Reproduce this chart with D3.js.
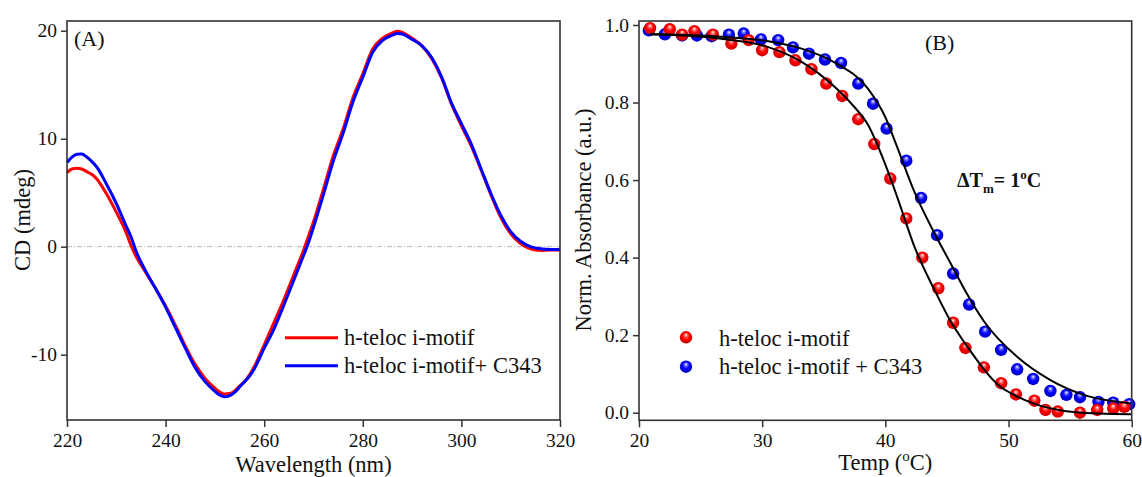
<!DOCTYPE html>
<html><head><meta charset="utf-8">
<script src="https://cdn.jsdelivr.net/npm/d3@7"></script>
<style>
body{margin:0;background:#fff;}
svg{display:block;font-family:"Liberation Serif","Times New Roman",serif;}
</style></head><body>
<svg id="chart" width="1142" height="477"></svg>
<script>
// ---------- Panel A: CD spectra ----------
const wavelength = [220,221,222,223,224,225,226,228,230,232,233,234,236,238,240,242,244,246,248,250,251,252,253,254,255,256,257,258,260,262,264,266,268,269,270,272,274,276,278,280,282,284,286,287,288,290,292,294,296,298,300,302,304,306,308,310,312,314,316,318,320];
const cdTeloc = [6.85,7.2,7.26,7.2,6.95,6.7,6.3,4.9,3.2,1.3,0.1,-0.9,-2.4,-3.9,-5.5,-7.3,-9.2,-10.9,-12.2,-13.1,-13.45,-13.64,-13.6,-13.35,-12.9,-12.5,-11.9,-11.1,-9.1,-7.0,-4.9,-2.6,-0.3,1.0,2.3,5.3,8.4,10.9,13.8,16.0,18.3,19.3,19.8,19.95,19.85,19.3,18.6,17.4,15.6,13.2,11.2,9.3,7.1,4.8,2.7,1.2,0.3,-0.2,-0.35,-0.3,-0.3];
const cdTelocC343 = [7.8,8.3,8.55,8.58,8.3,7.9,7.4,5.8,4.0,1.9,0.9,-0.4,-2.3,-3.9,-5.6,-7.5,-9.4,-11.2,-12.5,-13.4,-13.75,-13.9,-13.8,-13.5,-13.0,-12.5,-12.0,-11.3,-9.4,-7.6,-5.4,-3.1,-0.8,0.4,1.8,4.8,7.9,10.5,13.4,15.7,18.0,19.1,19.6,19.75,19.7,19.2,18.6,17.5,15.7,13.3,11.4,9.5,7.2,4.9,2.9,1.4,0.5,0.0,-0.2,-0.25,-0.25];
const cdXTicks = [220,240,260,280,300,320];
const cdYTicks = [-10,0,10,20];
const cdLegend = ["h-teloc i-motif","h-teloc i-motif+ C343"];

// ---------- Panel B: UV melting ----------
const tempTeloc = [20.9,22.5,23.5,24.5,26.0,27.5,28.9,30.0,31.4,32.7,34.0,35.2,36.5,37.8,39.1,40.4,41.7,43.0,44.3,45.5,46.5,48.0,49.4,50.6,52.1,53.0,54.0,55.8,57.2,58.5,59.4];
const absTeloc = [0.992,0.989,0.975,0.984,0.975,0.952,0.961,0.935,0.930,0.909,0.886,0.849,0.817,0.757,0.693,0.604,0.501,0.400,0.321,0.232,0.167,0.117,0.076,0.047,0.031,0.007,0.003,0.000,0.007,0.011,0.015];
const tempTelocC343 = [20.8,22.1,23.5,24.7,25.9,27.3,28.5,29.9,31.3,32.5,33.8,35.1,36.4,37.8,39.0,40.1,41.7,42.9,44.2,45.5,46.8,48.1,49.4,50.7,52.0,53.4,54.7,55.8,57.3,58.5,59.8];
const absTelocC343 = [0.986,0.976,0.973,0.973,0.971,0.975,0.978,0.963,0.961,0.942,0.926,0.911,0.902,0.849,0.797,0.733,0.650,0.554,0.458,0.359,0.279,0.209,0.162,0.112,0.087,0.056,0.046,0.040,0.028,0.026,0.022];
// sigmoidal fit curves
const fitTempTeloc = [20.9,24.0,27.0,30.5,33.2,35.9,37.3,38.6,40.0,41.0,42.4,44.0,45.3,46.1,47.0,48.0,49.3,50.5,52.0,54.7,57.4,60.0];
const fitAbsTeloc = [0.976,0.972,0.963,0.943,0.905,0.840,0.795,0.742,0.640,0.553,0.425,0.316,0.236,0.196,0.155,0.112,0.068,0.045,0.024,0.004,-0.002,-0.004];
const fitTempTelocC343 = [20.9,24.0,27.0,30.5,33.2,35.9,38.6,40.0,40.9,42.3,44.0,45.3,46.6,48.0,50.7,53.4,56.1,60.0];
const fitAbsTelocC343 = [0.976,0.974,0.969,0.958,0.939,0.903,0.835,0.762,0.690,0.574,0.462,0.385,0.308,0.236,0.144,0.084,0.046,0.024];
const meltXTicks = [20,30,40,50,60];
const meltYTicks = [0,0.2,0.4,0.6,0.8,1.0];
const meltLegend = ["h-teloc i-motif","h-teloc i-motif + C343"];

const svg = d3.select("#chart");
const frameColor = "#333";

// glossy sphere gradients for the markers
const defs = svg.append("defs");
function ball(id, hi, base, dark){
  const g = defs.append("radialGradient").attr("id", id)
    .attr("cx","50%").attr("cy","50%").attr("r","55%").attr("fx","50%").attr("fy","28%");
  g.append("stop").attr("offset","0%").attr("stop-color","#fff");
  g.append("stop").attr("offset","22%").attr("stop-color",hi);
  g.append("stop").attr("offset","50%").attr("stop-color",base);
  g.append("stop").attr("offset","100%").attr("stop-color",dark);
}
ball("ballRed","#ff7070","#ff0000","#c80000");
ball("ballBlue","#7070ff","#0000ff","#0000b8");

function styleAxis(g, size){
  g.select(".domain").remove();
  g.selectAll(".tick line").attr("stroke", frameColor).attr("stroke-width",1.5);
  g.selectAll(".tick text").attr("fill","#111").style("font-size", size+"px")
    .style("font-family",'"Liberation Serif",serif');
}

// ===== Panel A =====
const xA = d3.scaleLinear().domain([220,320]).range([67,560]);
const yA = d3.scaleLinear().domain([-16.05,20.9]).range([420,21]);

svg.append("line").attr("x1",xA(220)).attr("x2",xA(320)).attr("y1",yA(0)).attr("y2",yA(0))
  .attr("stroke","#b8b8b8").attr("stroke-width",1).attr("stroke-dasharray","5,2,1,2");

const lineA = d3.line().x((d,i)=>xA(wavelength[i])).y(d=>yA(d)).curve(d3.curveMonotoneX);
svg.append("path").datum(cdTeloc).attr("d",lineA).attr("fill","none").attr("stroke","#ff0000").attr("stroke-width",3);
svg.append("path").datum(cdTelocC343).attr("d",lineA).attr("fill","none").attr("stroke","#0000ff").attr("stroke-width",3);

svg.append("rect").attr("x",67).attr("y",21).attr("width",560-67).attr("height",420-21)
  .attr("fill","none").attr("stroke",frameColor).attr("stroke-width",1.6);

svg.append("g").attr("transform","translate(0,420)")
  .call(d3.axisBottom(xA).tickValues(cdXTicks).tickSize(7).tickPadding(6).tickFormat(d=>String(d)))
  .call(g=>styleAxis(g,19.5));
svg.append("g").attr("transform","translate(67,0)")
  .call(d3.axisLeft(yA).tickValues(cdYTicks).tickSize(6).tickPadding(4).tickFormat(d=>String(d)))
  .call(g=>styleAxis(g,19.5));

svg.append("text").attr("x",74).attr("y",46).style("font-size","22px").attr("fill","#111").text("(A)");
svg.append("text").attr("x",xA(270)).attr("y",472).attr("text-anchor","middle")
  .style("font-size","22.5px").attr("fill","#111").text("Wavelength (nm)");
svg.append("text").attr("transform","translate(30,220) rotate(-90)").attr("text-anchor","middle")
  .style("font-size","22.5px").attr("fill","#111").text("CD (mdeg)");

const legA = svg.append("g");
[["#ff0000",337.7,345],["#0000ff",365.7,373]].forEach((c,i)=>{
  legA.append("line").attr("x1",285).attr("x2",338).attr("y1",c[1]).attr("y2",c[1])
    .attr("stroke",c[0]).attr("stroke-width",3);
  legA.append("text").attr("x",344).attr("y",c[2]).style("font-size","22.5px").attr("fill","#111").text(cdLegend[i]);
});

// ===== Panel B =====
const xB = d3.scaleLinear().domain([20,60]).range([639,1131.7]);
const yB = d3.scaleLinear().domain([-0.0196,1.0103]).range([420.3,21]);

const ptsBlue = svg.append("g");
tempTelocC343.forEach((t,i)=>{
  ptsBlue.append("circle").attr("cx",xB(t)).attr("cy",yB(absTelocC343[i])).attr("r",6.2).attr("fill","url(#ballBlue)");
});
const ptsRed = svg.append("g");
tempTeloc.forEach((t,i)=>{
  ptsRed.append("circle").attr("cx",xB(t)).attr("cy",yB(absTeloc[i])).attr("r",6.2).attr("fill","url(#ballRed)");
});

const fitLine = (tx) => d3.line().x((d,i)=>xB(tx[i])).y(d=>yB(d)).curve(d3.curveMonotoneX);
svg.append("path").datum(fitAbsTeloc).attr("d",fitLine(fitTempTeloc)).attr("fill","none").attr("stroke","#000").attr("stroke-width",2);
svg.append("path").datum(fitAbsTelocC343).attr("d",fitLine(fitTempTelocC343)).attr("fill","none").attr("stroke","#000").attr("stroke-width",2);

svg.append("rect").attr("x",639).attr("y",21).attr("width",1131.7-639).attr("height",420.3-21)
  .attr("fill","none").attr("stroke",frameColor).attr("stroke-width",1.6);

svg.append("g").attr("transform","translate(0,420.3)")
  .call(d3.axisBottom(xB).tickValues(meltXTicks).tickSize(7).tickPadding(6).tickFormat(d=>String(d)))
  .call(g=>styleAxis(g,19.5));
svg.append("g").attr("transform","translate(639,0)")
  .call(d3.axisLeft(yB).tickValues(meltYTicks).tickSize(6).tickPadding(4).tickFormat(d3.format(".1f")))
  .call(g=>styleAxis(g,19.5));

svg.append("text").attr("x",925).attr("y",50).style("font-size","22px").attr("fill","#111").text("(B)");

const dt = svg.append("text").attr("x",957).attr("y",187).style("font-size","20px")
  .style("font-weight","bold").attr("fill","#111");
dt.append("tspan").text("ΔT");
dt.append("tspan").attr("dy",6).style("font-size","13px").text("m");
dt.append("tspan").attr("dy",-6).text("= 1");
dt.append("tspan").attr("dy",-8).style("font-size","13px").text("o");
dt.append("tspan").attr("dy",8).text("C");

const tl = svg.append("text").attr("x",xB(40)).attr("y",470).attr("text-anchor","middle")
  .style("font-size","22.5px").attr("fill","#111");
tl.append("tspan").text("Temp (");
tl.append("tspan").attr("dy",-9).style("font-size","15px").text("o");
tl.append("tspan").attr("dy",9).text("C)");

svg.append("text").attr("transform","translate(591,220) rotate(-90)").attr("text-anchor","middle")
  .style("font-size","22.5px").attr("fill","#111").text("Norm. Absorbance (a.u.)");

const legB = svg.append("g");
[["url(#ballRed)",337.3,346],["url(#ballBlue)",366.7,374]].forEach((c,i)=>{
  legB.append("circle").attr("cx",686).attr("cy",c[1]).attr("r",6.2).attr("fill",c[0]);
  legB.append("text").attr("x",719).attr("y",c[2]).style("font-size","22.5px").attr("fill","#111").text(meltLegend[i]);
});
</script>
</body></html>
